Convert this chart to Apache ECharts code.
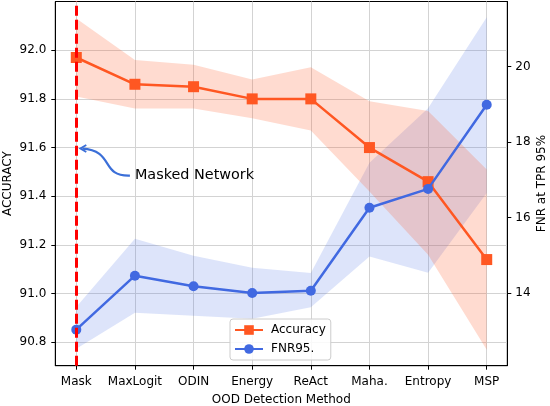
<!DOCTYPE html>
<html>
<head>
<meta charset="utf-8">
<script src="https://cdn.jsdelivr.net/npm/echarts@6/dist/echarts.min.js"></script>
<style>html,body{margin:0;padding:0;background:#fff}#c{width:550px;height:406px}</style>
</head>
<body>
<div id="c"></div>
<script>
const categories = ['Mask', 'MaxLogit', 'ODIN', 'Energy', 'ReAct', 'Maha.', 'Entropy', 'MSP'];
const accuracy      = [91.97, 91.86, 91.85, 91.80, 91.80, 91.60, 91.46, 91.14];
const accuracyUpper = [92.13, 91.96, 91.94, 91.88, 91.93, 91.79, 91.75, 91.51];
const accuracyLower = [91.81, 91.76, 91.76, 91.72, 91.67, 91.42, 91.16, 90.77];
const fnr      = [13.03, 14.46, 14.18, 14.00, 14.06, 16.26, 16.76, 18.99];
const fnrUpper = [13.63, 15.44, 14.99, 14.67, 14.53, 17.45, 18.90, 21.31];
const fnrLower = [12.52, 13.48, 13.40, 13.32, 13.62, 14.97, 14.54, 16.65];
const accTicks = [90.8, 91.0, 91.2, 91.4, 91.6, 91.8, 92.0];
const fnrTicks = [14, 16, 18, 20];
const maskedIndex = 0;
const catIdx = categories.map((_, i) => i);

const FONT = 'DejaVu Sans';
const ORANGE = '#FF5722';
const BLUE = '#4169E1';

function bandSeries(name, upper, lower, yIdx, color) {
  return {
    type: 'custom', name: name, yAxisIndex: yIdx, silent: true, z: 1,
    data: [[0, upper[0]]],
    renderItem: function (params, api) {
      const pts = [];
      for (let i = 0; i < upper.length; i++) pts.push(api.coord([i, upper[i]]));
      for (let i = lower.length - 1; i >= 0; i--) pts.push(api.coord([i, lower[i]]));
      return { type: 'polygon', shape: { points: pts }, style: { fill: color, stroke: null } };
    }
  };
}

const chart = echarts.init(document.getElementById('c'), null, { renderer: 'canvas' });
const axisText = { color: '#000', fontFamily: FONT, fontSize: 12 };
chart.setOption({
  animation: false,
  textStyle: { fontFamily: FONT },
  grid: { left: 55.3, right: 42.7, top: 1.5, bottom: 40.3, outerBoundsMode: 'none', containLabel: false, show: true, borderColor: '#000', borderWidth: 1, backgroundColor: 'transparent' },
  xAxis: {
    type: 'value', min: -0.358, max: 7.351,
    name: 'OOD Detection Method', nameLocation: 'middle', nameGap: 28, nameMoveOverlap: false,
    nameTextStyle: axisText,
    axisLine: { show: true, onZero: false, lineStyle: { color: '#000', width: 1 } },
    axisTick: { show: true, length: 4, lineStyle: { color: '#000' }, customValues: catIdx },
    axisLabel: { ...axisText, margin: 10, customValues: catIdx, formatter: v => categories[Math.round(v)] || '' },
    splitLine: { show: true, lineStyle: { color: '#d3d3d3', width: 1 } }
  },
  yAxis: [
    {
      type: 'value', min: 90.704, max: 92.2, position: 'left',
      name: 'ACCURACY', nameLocation: 'middle', nameGap: 41, nameRotate: 90, nameMoveOverlap: false,
      nameTextStyle: axisText,
      axisLine: { show: true, onZero: false, lineStyle: { color: '#000', width: 1 } },
      axisTick: { show: true, length: 4, lineStyle: { color: '#000' }, customValues: accTicks },
      axisLabel: { ...axisText, margin: 9, customValues: accTicks, formatter: v => v.toFixed(1) },
      splitLine: { show: true, lineStyle: { color: '#d3d3d3', width: 1 } }
    },
    {
      type: 'value', min: 12.074, max: 21.727, position: 'right',
      name: 'FNR at TPR 95%', nameLocation: 'middle', nameGap: 29, nameRotate: 90, nameMoveOverlap: false,
      nameTextStyle: axisText,
      axisLine: { show: true, onZero: false, lineStyle: { color: '#000', width: 1 } },
      axisTick: { show: true, length: 4, lineStyle: { color: '#000' }, customValues: fnrTicks },
      axisLabel: { ...axisText, margin: 8, customValues: fnrTicks, formatter: v => String(v) },
      splitLine: { show: false }
    }
  ],
  legend: {
    orient: 'vertical', left: 230, top: 319,
    data: ['Accuracy', 'FNR95.'],
    itemWidth: 28, itemHeight: 12, itemGap: 7,
    padding: [5, 5, 5, 4],
    backgroundColor: 'rgba(255,255,255,0.85)', borderColor: '#cccccc', borderWidth: 1, borderRadius: 3,
    textStyle: { ...axisText, padding: [0, 0, 0, 3] }
  },
  series: [
    bandSeries('fnrBand', fnrUpper, fnrLower, 1, 'rgba(65,105,225,0.18)'),
    bandSeries('accBand', accuracyUpper, accuracyLower, 0, 'rgba(255,87,34,0.21)'),
    {
      type: 'line', name: 'Accuracy', yAxisIndex: 0, z: 3,
      data: accuracy.map((v, i) => [i, v]),
      symbol: 'rect', symbolSize: 11,
      itemStyle: { color: ORANGE }, lineStyle: { color: ORANGE, width: 2.5 }
    },
    {
      type: 'line', name: 'FNR95.', yAxisIndex: 1, z: 4,
      data: fnr.map((v, i) => [i, v]),
      symbol: 'circle', symbolSize: 10,
      itemStyle: { color: BLUE }, lineStyle: { color: BLUE, width: 2.5 }
    },
    {
      type: 'line', name: 'maskLine', yAxisIndex: 0, z: 6, data: [],
      markLine: {
        silent: true, symbol: 'none', label: { show: false },
        lineStyle: { color: '#FF0000', type: [10, 4], width: 3, opacity: 1 },
        emphasis: { disabled: true },
        data: [{ xAxis: maskedIndex }]
      }
    }
  ]
});

// annotation anchored to data coordinates
const tip = chart.convertToPixel({ xAxisIndex: 0, yAxisIndex: 0 }, [maskedIndex, 91.6]);
const txt = chart.convertToPixel({ xAxisIndex: 0, yAxisIndex: 0 }, [1, 91.485]);
const tx = tip[0] + 4, ty = tip[1] + 1;
const sx = txt[0] - 5, sy = txt[1];
const ARROW = '#3B6FD8';
chart.setOption({
  graphic: [
    { type: 'text', x: txt[0], y: txt[1], style: { text: 'Masked Network', fill: '#000', font: '14.4px "DejaVu Sans"', textAlign: 'left', textVerticalAlign: 'middle' }, z: 10 },
    { type: 'bezierCurve', shape: { x1: sx, y1: sy, cpx1: sx - 30, cpy1: sy + 1, cpx2: sx - 15, cpy2: ty + 2, x2: tx + 2, y2: ty }, style: { stroke: ARROW, lineWidth: 2.2, fill: null }, z: 10 },
    { type: 'polyline', shape: { points: [[tx + 6, ty - 3.5], [tx, ty], [tx + 6, ty + 3.5]] }, style: { stroke: ARROW, lineWidth: 1.8, fill: null }, z: 10 }
  ]
});
</script>
</body>
</html>
